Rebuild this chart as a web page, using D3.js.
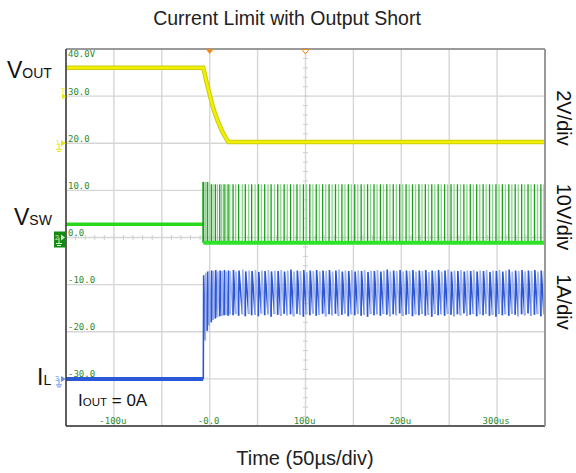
<!DOCTYPE html>
<html>
<head>
<meta charset="utf-8">
<script src="https://cdn.jsdelivr.net/npm/d3@7"></script>
<style>
  body { margin: 0; background: #fff; }
  text { font-family: "Liberation Sans", Arial, sans-serif; }
  .scope { font-family: "DejaVu Sans Mono", monospace; font-size: 9px; fill: #2f8a2f; }
</style>
</head>
<body>
<div id="chart"></div>
<script>

// tick labels on the scope screen
var timeTicks = [-100, 0, 100, 200, 300];
var timeLabels = ["-100u", "-0.0", "100u", "200u", "300us"];
var screenTicks = [40, 30, 20, 10, 0, -10, -20, -30];
var screenLabels = ["40.0V", "30.0", "20.0", "10.0", "0.0", "-10.0", "-20.0", "-30.0"];

// VOUT (V) against time (us)
var voutT = [-150, -6.7, -3, 0.6, 4, 8, 13, 17, 19.5, 350];
var voutV = [3.2, 3.2, 2.55, 1.96, 1.45, 0.98, 0.5, 0.22, 0.05, 0.05];

// VSW levels (V)
var vswBefore = 2.8;
var vswLow = -1.1;
var vswHigh = 11.3;
var vswFirstHigh = 11.8;

// IL before the short (A)
var ilBefore = 0;

// switching cycles: [time us, IL valley A, IL peak A]
var cycles = [
  [-6.7, 0.00, 2.20], [-4.6, 0.82, 2.25], [-2.5, 1.02, 2.28], [-0.7, 1.14, 2.30],
  [1.7, 1.20, 2.30], [3.5, 1.25, 2.29], [5.9, 1.28, 2.31], [8.0, 1.31, 2.28],
  [10.5, 1.33, 2.30], [12.5, 1.34, 2.29], [15.0, 1.35, 2.31], [16.7, 1.36, 2.28],
  [19.2, 1.34, 2.30], [20.9, 1.37, 2.29], [24.4, 1.35, 2.31], [27.1, 1.38, 2.28],
  [30.2, 1.34, 2.30], [34.1, 1.37, 2.32], [37.2, 1.33, 2.28], [40.7, 1.38, 2.30],
  [43.8, 1.35, 2.29], [47.4, 1.36, 2.31], [50.8, 1.33, 2.27], [54.0, 1.39, 2.30],
  [57.4, 1.35, 2.29], [60.9, 1.37, 2.31], [64.1, 1.32, 2.28], [67.6, 1.38, 2.30],
  [71.0, 1.36, 2.29], [74.2, 1.34, 2.31], [77.7, 1.38, 2.28], [81.0, 1.35, 2.30],
  [84.4, 1.37, 2.32], [87.6, 1.33, 2.28], [91.1, 1.38, 2.30], [94.3, 1.36, 2.29],
  [97.8, 1.32, 2.31], [101.0, 1.37, 2.27], [104.5, 1.35, 2.30], [107.7, 1.39, 2.29],
  [111.2, 1.34, 2.31], [114.4, 1.36, 2.28], [117.9, 1.38, 2.30], [121.1, 1.33, 2.29],
  [124.6, 1.37, 2.31], [127.8, 1.35, 2.28], [131.3, 1.38, 2.30], [134.5, 1.34, 2.32],
  [138.0, 1.36, 2.28], [141.2, 1.39, 2.30], [144.7, 1.33, 2.29], [147.9, 1.37, 2.31],
  [151.4, 1.35, 2.28], [154.6, 1.38, 2.30], [158.1, 1.34, 2.29], [161.3, 1.36, 2.31],
  [164.8, 1.32, 2.27], [168.0, 1.38, 2.30], [171.5, 1.35, 2.29], [174.7, 1.37, 2.31],
  [178.2, 1.34, 2.28], [181.4, 1.38, 2.30], [184.9, 1.36, 2.32], [188.1, 1.33, 2.28],
  [191.6, 1.37, 2.30], [194.8, 1.35, 2.29], [198.3, 1.39, 2.31], [201.5, 1.34, 2.28],
  [205.0, 1.36, 2.30], [208.2, 1.38, 2.29], [211.7, 1.33, 2.31], [214.9, 1.37, 2.28],
  [218.4, 1.35, 2.30], [221.6, 1.38, 2.29], [225.1, 1.34, 2.31], [228.3, 1.36, 2.27],
  [231.8, 1.32, 2.30], [235.0, 1.38, 2.29], [238.5, 1.35, 2.31], [241.7, 1.37, 2.28],
  [245.2, 1.34, 2.30], [248.4, 1.38, 2.32], [251.9, 1.36, 2.28], [255.1, 1.33, 2.30],
  [258.6, 1.37, 2.29], [261.8, 1.35, 2.31], [265.3, 1.39, 2.28], [268.5, 1.34, 2.30],
  [272.0, 1.36, 2.29], [275.2, 1.38, 2.31], [278.7, 1.33, 2.28], [281.9, 1.37, 2.30],
  [285.4, 1.35, 2.29], [288.6, 1.38, 2.31], [292.1, 1.34, 2.27], [295.3, 1.36, 2.30],
  [298.8, 1.32, 2.29], [302.0, 1.38, 2.31], [305.5, 1.35, 2.28], [308.7, 1.37, 2.30],
  [312.2, 1.34, 2.32], [315.4, 1.38, 2.28], [318.9, 1.36, 2.30], [322.1, 1.33, 2.29],
  [325.6, 1.37, 2.31], [328.8, 1.35, 2.28], [332.3, 1.39, 2.30], [335.5, 1.34, 2.29],
  [339.0, 1.36, 2.31], [342.2, 1.38, 2.28], [345.7, 1.33, 2.30], [348.9, 1.37, 2.29]
];

// plot box
var width = 576, height = 473;
var pL = 66, pR = 545, pT = 49, pB = 426;

var svg = d3.select("#chart")
  .append("svg")
    .attr("width", width)
    .attr("height", height);

var x = d3.scaleLinear().domain([-150, 350]).range([pL, pR]);
// screen scale (10 units / div), also VSW at 10V/div with ground at centre
var scr = d3.scaleLinear().domain([-40, 40]).range([pB, pT]);
// VOUT 2V/div, ground 2 div above centre
var yV = d3.scaleLinear().domain([-12, 4]).range([pB, pT]);
// IL 1A/div, ground 3 div below centre
var yIL = d3.scaleLinear().domain([-1, 7]).range([pB, pT]);

svg.append("defs").append("clipPath").attr("id", "clip")
  .append("rect")
    .attr("x", pL).attr("y", pT)
    .attr("width", pR - pL).attr("height", pB - pT);

// grid
var grid = svg.append("g");
grid.selectAll(".vg")
  .data(d3.range(-150, 351, 50))
  .enter().append("line")
    .attr("x1", function(d) { return x(d); })
    .attr("x2", function(d) { return x(d); })
    .attr("y1", pT).attr("y2", pB)
    .style("stroke", "#d6d6d6").style("stroke-width", 1.4);
grid.selectAll(".hg")
  .data(d3.range(-40, 41, 10))
  .enter().append("line")
    .attr("x1", pL).attr("x2", pR)
    .attr("y1", function(d) { return scr(d); })
    .attr("y2", function(d) { return scr(d); })
    .style("stroke", "#d6d6d6").style("stroke-width", 1.4);

// minor ticks on the centre cross
grid.selectAll(".mx")
  .data(d3.range(-150, 351, 10))
  .enter().append("line")
    .attr("x1", function(d) { return x(d); })
    .attr("x2", function(d) { return x(d); })
    .attr("y1", scr(0) - 2.5).attr("y2", scr(0) + 2.5)
    .style("stroke", "#cfcfcf").style("stroke-width", 1);
grid.selectAll(".my")
  .data(d3.range(-40, 41, 2))
  .enter().append("line")
    .attr("x1", x(100) - 2.5).attr("x2", x(100) + 2.5)
    .attr("y1", function(d) { return scr(d); })
    .attr("y2", function(d) { return scr(d); })
    .style("stroke", "#cfcfcf").style("stroke-width", 1);

// screen labels
svg.selectAll(".sl")
  .data(screenTicks)
  .enter().append("text")
    .attr("class", "scope")
    .attr("x", pL + 2)
    .attr("y", function(d, i) { return i === 0 ? scr(d) + 8 : scr(d) - 1.5; })
    .text(function(d, i) { return screenLabels[i]; });
svg.selectAll(".tl")
  .data(timeTicks)
  .enter().append("text")
    .attr("class", "scope")
    .attr("text-anchor", "middle")
    .attr("x", function(d) { return x(d) - 1; })
    .attr("y", pB - 2)
    .text(function(d, i) { return timeLabels[i]; });

var plot = svg.append("g").attr("clip-path", "url(#clip)");

// ---- IL (blue)
plot.append("line")
  .attr("x1", x(-150)).attr("x2", x(cycles[0][0]))
  .attr("y1", yIL(ilBefore)).attr("y2", yIL(ilBefore))
  .style("stroke", "#2a58d8").style("stroke-width", 4);
plot.selectAll(".il")
  .data(cycles)
  .enter().append("path")
    .attr("d", function(d, i) {
      var nxt = cycles[i + 1] || [350, d[1], d[2]];
      return "M" + x(d[0]) + "," + yIL(d[1]) +
             "L" + x(d[0] + 0.4) + "," + yIL(d[2]) +
             "L" + x(nxt[0]) + "," + yIL(nxt[1]);
    })
    .style("fill", "none")
    .style("stroke", function(d, i) { return i % 2 ? "#9fb3ee" : "#2b56d6"; })
    .style("stroke-width", 1.6);

// ---- VSW (green)
plot.append("line")
  .attr("x1", x(-150)).attr("x2", x(cycles[0][0]))
  .attr("y1", scr(vswBefore)).attr("y2", scr(vswBefore))
  .style("stroke", "#2ad81a").style("stroke-width", 3.5);
plot.selectAll(".sw")
  .data(cycles)
  .enter().append("line")
    .attr("x1", function(d) { return x(d[0]); })
    .attr("x2", function(d) { return x(d[0]); })
    .attr("y1", scr(vswLow))
    .attr("y2", function(d, i) { return scr(i < 4 ? vswFirstHigh : vswHigh); })
    .style("stroke", function(d, i) { return i % 2 ? "#86d886" : "#1c9e1c"; })
    .style("stroke-width", function(d, i) { return i === 0 ? 2 : 1.3; });
plot.append("line")
  .attr("x1", x(cycles[0][0])).attr("x2", x(350))
  .attr("y1", scr(vswLow)).attr("y2", scr(vswLow))
  .style("stroke", "#2ee22a").style("stroke-width", 4);

// ---- VOUT (yellow)
var vline = d3.line()
  .x(function(d) { return x(d[0]); })
  .y(function(d) { return yV(d[1]); });
var vdata = voutT.map(function(t, i) { return [t, voutV[i]]; });
plot.append("path").datum(vdata)
  .attr("d", vline)
  .style("fill", "none").style("stroke", "#cccc10").style("stroke-width", 4.5);
plot.append("path").datum(vdata)
  .attr("d", vline)
  .style("fill", "none").style("stroke", "#f0f000").style("stroke-width", 2.5);

// border
svg.append("line").attr("x1", pL).attr("x2", pL).attr("y1", pT).attr("y2", pB)
  .style("stroke", "#333").style("stroke-width", 1.5);
svg.append("line").attr("x1", pL).attr("x2", pR).attr("y1", pB).attr("y2", pB)
  .style("stroke", "#333").style("stroke-width", 1.5);
svg.append("line").attr("x1", pL).attr("x2", pR).attr("y1", pT).attr("y2", pT)
  .style("stroke", "#555").style("stroke-width", 1.2);
svg.append("line").attr("x1", pR).attr("x2", pR).attr("y1", pT).attr("y2", pB)
  .style("stroke", "#999").style("stroke-width", 2);

// trigger markers at the top
svg.append("path")
  .attr("d", "M" + (x(0) - 4) + "," + pT + "L" + (x(0) + 4) + "," + pT + "L" + x(0) + "," + (pT + 5) + "Z")
  .style("fill", "#f08a1e");
svg.append("path")
  .attr("d", "M" + (x(100) - 3.5) + "," + (pT + 0.5) + "L" + (x(100) + 3.5) + "," + (pT + 0.5) + "L" + x(100) + "," + (pT + 5) + "Z")
  .style("fill", "#fff").style("stroke", "#f08a1e").style("stroke-width", 1);

// channel markers on the left edge
var mk = svg.append("g");
// trigger level (yellow)
mk.append("text").attr("x", 61).attr("y", scr(30) - 3).text("T")
  .style("font-size", "7px").style("fill", "#e8e800");
mk.append("path")
  .attr("d", "M62," + (scr(30) - 3) + "L66," + scr(30) + "L62," + (scr(30) + 3) + "Z")
  .style("fill", "#e8e800");
// ch1 ground
mk.append("text").attr("x", 56).attr("y", yV(0) + 2).text("1")
  .style("font-size", "7px").style("fill", "#e8e800");
mk.append("path")
  .attr("d", "M61," + (yV(0) - 3) + "L66," + yV(0) + "L61," + (yV(0) + 3) + "Z")
  .style("fill", "#e8e800");
mk.append("path")
  .attr("d", "M59," + yV(0) + "V" + (yV(0) + 6) + "M56," + (yV(0) + 6) + "H62M57," + (yV(0) + 8) + "H61")
  .style("stroke", "#e8e800").style("fill", "none");
// ch2 ground
mk.append("rect").attr("x", 54).attr("y", scr(0) - 6).attr("width", 12).attr("height", 16)
  .style("fill", "#138a13");
mk.append("text").attr("x", 55).attr("y", scr(0) + 2).text("2")
  .style("font-size", "7px").style("fill", "#cfeecf");
mk.append("path")
  .attr("d", "M61," + (scr(0) - 3) + "L65," + scr(0) + "L61," + (scr(0) + 3) + "Z")
  .style("fill", "#cfeecf");
mk.append("path")
  .attr("d", "M59," + scr(0) + "V" + (scr(0) + 6) + "M56," + (scr(0) + 6) + "H62M57," + (scr(0) + 8) + "H61")
  .style("stroke", "#cfeecf").style("fill", "none");
// ch3 ground
mk.append("text").attr("x", 55).attr("y", yIL(0) + 2).text("3")
  .style("font-size", "7px").style("fill", "#6d8fea");
mk.append("path")
  .attr("d", "M61," + (yIL(0) - 3) + "L66," + yIL(0) + "L61," + (yIL(0) + 3) + "Z")
  .style("fill", "#6d8fea");
mk.append("path")
  .attr("d", "M59," + yIL(0) + "V" + (yIL(0) + 6) + "M56," + (yIL(0) + 6) + "H62M57," + (yIL(0) + 8) + "H61")
  .style("stroke", "#6d8fea").style("fill", "none");

// title and axis text
svg.append("text")
  .attr("x", 287).attr("y", 25)
  .attr("text-anchor", "middle")
  .style("font-size", "19.5px").style("fill", "#222")
  .text("Current Limit with Output Short");

svg.append("text")
  .attr("x", 305).attr("y", 465)
  .attr("text-anchor", "middle")
  .style("font-size", "20px").style("fill", "#222")
  .text("Time (50\u00b5s/div)");

// channel names
var vout = svg.append("text").attr("x", 7).attr("y", 78).style("fill", "#111");
vout.append("tspan").style("font-size", "23px").text("V");
vout.append("tspan").style("font-size", "14px").text("OUT");

var vsw = svg.append("text").attr("x", 14).attr("y", 225).style("fill", "#111");
vsw.append("tspan").style("font-size", "23px").text("V");
vsw.append("tspan").style("font-size", "14px").text("SW");

var il = svg.append("text").attr("x", 37).attr("y", 385).style("fill", "#111");
il.append("tspan").style("font-size", "23px").text("I");
il.append("tspan").style("font-size", "14px").text("L");

var iout = svg.append("text").attr("x", 78).attr("y", 406).style("fill", "#111");
iout.append("tspan").style("font-size", "17px").text("I");
iout.append("tspan").style("font-size", "11.5px").text("OUT");
iout.append("tspan").style("font-size", "17px").text(" = 0A");

// scale labels on the right, rotated
var scales = [["2V/div", 118], ["10V/div", 217], ["1A/div", 302]];
svg.selectAll(".rs")
  .data(scales)
  .enter().append("text")
    .attr("transform", function(d) { return "translate(557," + d[1] + ") rotate(90)"; })
    .attr("text-anchor", "middle")
    .style("font-size", "20px").style("fill", "#111")
    .text(function(d) { return d[0]; });

</script>
</body>
</html>
